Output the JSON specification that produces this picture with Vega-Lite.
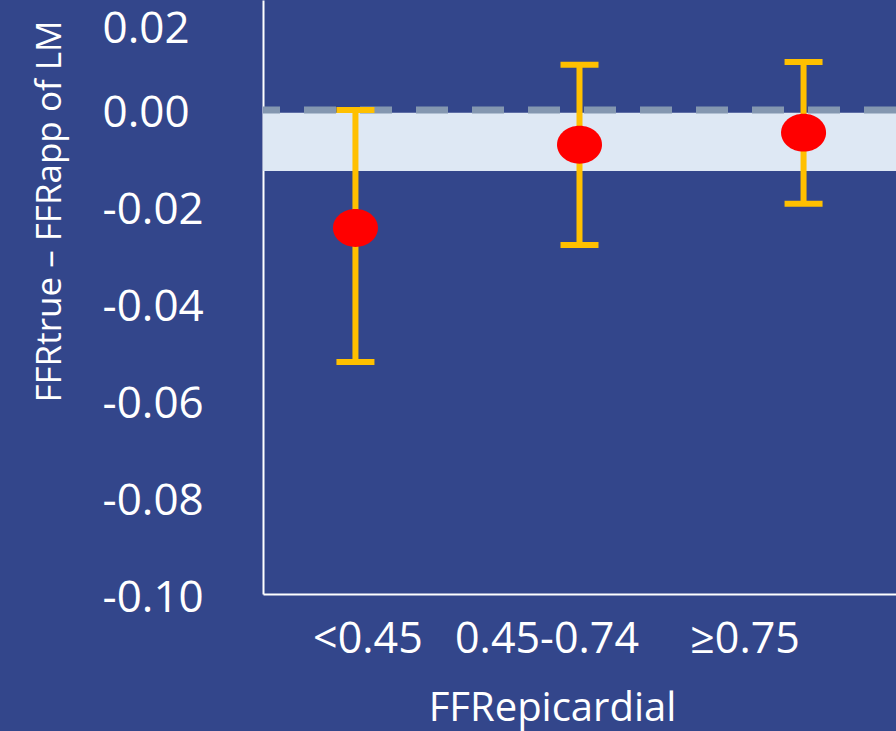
{
  "$schema": "https://vega.github.io/schema/vega-lite/v6.json",
  "width": 633,
  "height": 594,
  "autosize": {"type": "none"},
  "padding": {"left": 263, "top": 0, "right": 0, "bottom": 137},
  "background": "#33468b",
  "config": {"view": {"stroke": null}, "font": "Open Sans"},
  "datasets": {
    "stats": [
      {"group": "<0.45", "mean": -0.0244, "lo": -0.0521, "hi": 0.0},
      {"group": "0.45-0.74", "mean": -0.0072, "lo": -0.0279, "hi": 0.0093},
      {"group": "≥0.75", "mean": -0.0047, "lo": -0.0194, "hi": 0.0099}
    ],
    "band": [{"lo": -0.0126, "hi": -0.0006}],
    "ref": [{"value": 0}]
  },
  "layer": [
    {
      "data": {"name": "band"},
      "mark": {"type": "rect", "color": "#dee8f4", "opacity": 1},
      "encoding": {
        "y": {
          "field": "hi", "type": "quantitative",
          "title": "FFRtrue – FFRapp of LM",
          "scale": {"domain": [-0.1, 0.0227], "nice": false, "zero": false},
          "axis": {
            "values": [-0.1, -0.08, -0.06, -0.04, -0.02, 0, 0.02],
            "labelExpr": "replace(format(datum.value, '.2f'), '−', '-')",
            "grid": false, "ticks": false, "tickSize": 0,
            "domainColor": "#ffffff", "domainWidth": 2,
            "labelColor": "#ffffff", "labelFontSize": 44, "labelFont": "Open Sans", "labelLimit": 0,
            "labelAlign": "left", "labelBaseline": "middle", "labelPadding": 161,
            "labelOffset": {"condition": {"test": "datum.value > 0.01", "value": 16}, "value": 4},
            "titleColor": "#ffffff", "titleFontSize": 35, "titleFontWeight": "normal", "titleFont": "Open Sans",
            "titleLimit": 0,
            "titleAngle": -90, "titleAlign": "center", "titleBaseline": "alphabetic",
            "titleX": -203, "titleY": 211
          }
        },
        "y2": {"field": "lo"}
      }
    },
    {
      "data": {"name": "ref"},
      "mark": {"type": "rule", "color": "#8497b0", "strokeWidth": 7, "strokeDash": [32, 24]},
      "encoding": {
        "y": {"field": "value", "type": "quantitative", "title": "FFRtrue – FFRapp of LM",
              "scale": {"domain": [-0.1, 0.0227], "nice": false, "zero": false}}
      }
    },
    {
      "data": {"name": "stats"},
      "encoding": {
        "x": {
          "field": "group", "type": "nominal", "sort": null,
          "title": "FFRepicardial",
          "scale": {"type": "point", "padding": 0.4126, "domain": ["<0.45", "0.45-0.74", "≥0.75"]},
          "axis": {
            "domainColor": "#ffffff", "domainWidth": 2, "ticks": false, "tickSize": 0, "grid": false,
            "labelColor": "#ffffff", "labelFontSize": 43, "labelFont": "Open Sans", "labelAngle": 0,
            "labelLimit": 0, "labelOverlap": false,
            "labelPadding": 24, "labelBaseline": "top",
            "labelOffset": {"condition": [
              {"test": "datum.value === '<0.45'", "value": 12},
              {"test": "datum.value === '0.45-0.74'", "value": -33}
            ], "value": -59},
            "titleColor": "#ffffff", "titleFontSize": 40, "titleFontWeight": "normal", "titleFont": "Open Sans",
            "titleLimit": 0,
            "titleAlign": "center", "titleBaseline": "alphabetic", "titleX": 289, "titleY": 126
          }
        }
      },
      "layer": [
        {
          "mark": {"type": "rule", "color": "#ffc000", "strokeWidth": 6},
          "encoding": {
            "y": {"field": "lo", "type": "quantitative", "title": "FFRtrue – FFRapp of LM",
                  "scale": {"domain": [-0.1, 0.0227], "nice": false, "zero": false}},
            "y2": {"field": "hi"}
          }
        },
        {
          "mark": {"type": "tick", "color": "#ffc000", "thickness": 6, "size": 38, "orient": "horizontal", "opacity": 1},
          "encoding": {
            "y": {"field": "lo", "type": "quantitative", "title": "FFRtrue – FFRapp of LM",
                  "scale": {"domain": [-0.1, 0.0227], "nice": false, "zero": false}}
          }
        },
        {
          "mark": {"type": "tick", "color": "#ffc000", "thickness": 6, "size": 38, "orient": "horizontal", "opacity": 1},
          "encoding": {
            "y": {"field": "hi", "type": "quantitative", "title": "FFRtrue – FFRapp of LM",
                  "scale": {"domain": [-0.1, 0.0227], "nice": false, "zero": false}}
          }
        },
        {
          "mark": {"type": "point", "filled": true, "opacity": 1, "color": "#ff0000",
                   "shape": "M -1 0 A 1 0.84 0 1 1 1 0 A 1 0.84 0 1 1 -1 0 Z", "size": 2025},
          "encoding": {
            "y": {"field": "mean", "type": "quantitative", "title": "FFRtrue – FFRapp of LM",
                  "scale": {"domain": [-0.1, 0.0227], "nice": false, "zero": false}}
          }
        }
      ]
    }
  ]
}
